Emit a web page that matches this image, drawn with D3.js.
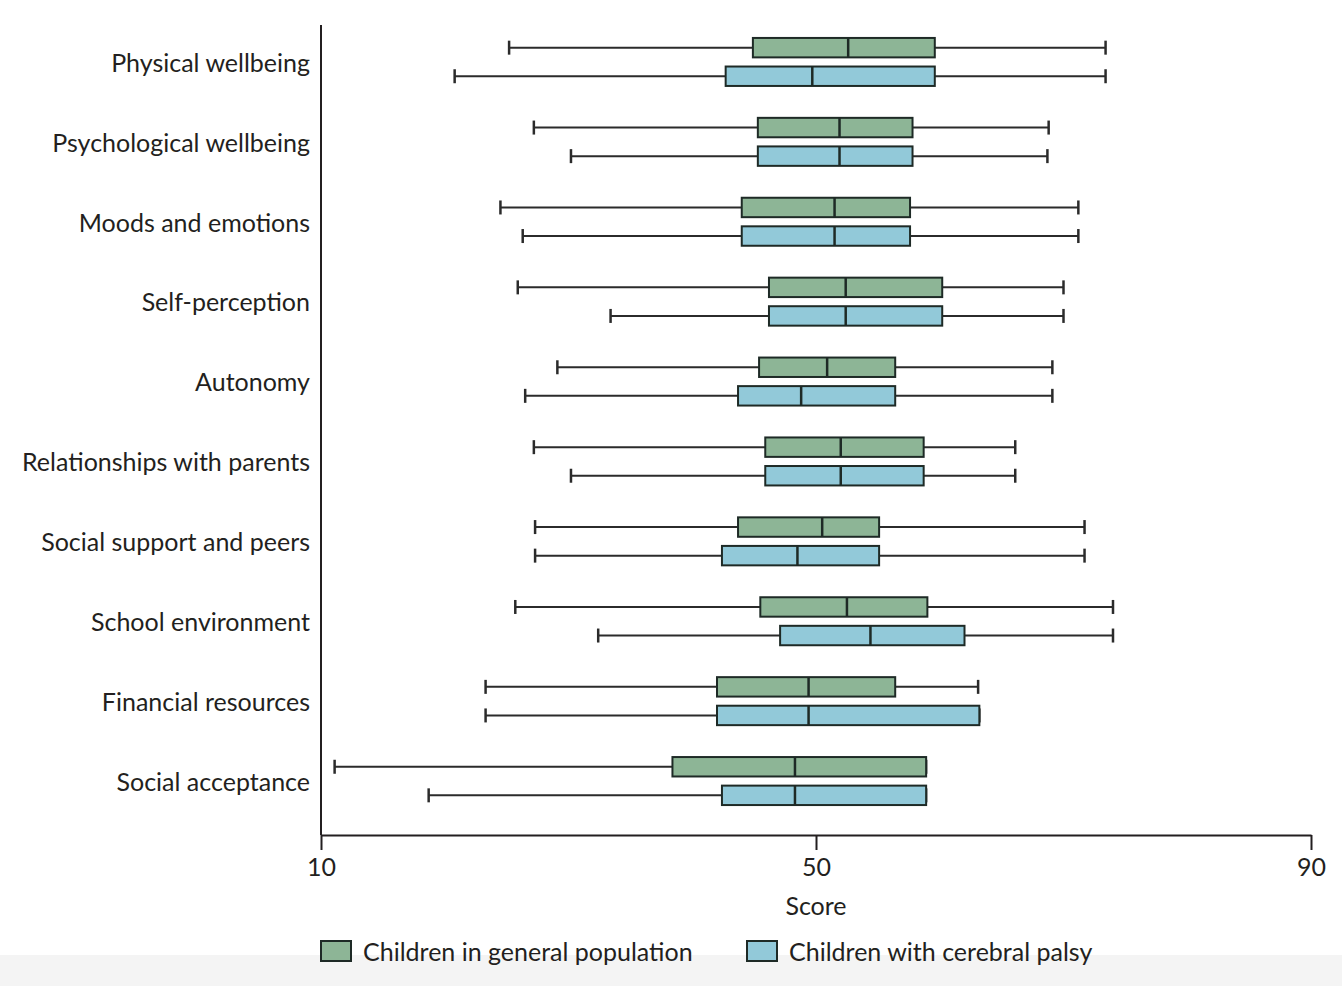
<!DOCTYPE html>
<html>
<head>
<meta charset="utf-8">
<script src="https://cdn.jsdelivr.net/npm/d3@7/dist/d3.min.js"></script>
<style>
  html, body { margin: 0; padding: 0; background: #ffffff; }
  svg text { font-family: "Lato", "Open Sans", sans-serif; fill: #231f20; }
</style>
</head>
<body>
<svg id="chart" width="1342" height="986"></svg>
<script>
// Domains of the KIDSCREEN questionnaire
const domains = [
  "Physical wellbeing",
  "Psychological wellbeing",
  "Moods and emotions",
  "Self-perception",
  "Autonomy",
  "Relationships with parents",
  "Social support and peers",
  "School environment",
  "Financial resources",
  "Social acceptance"
];

const groups = ["Children in general population", "Children with cerebral palsy"];

// Five-number summaries per domain: [min, Q1, median, Q3, max]
const generalPopulation = [
  [25.2, 44.9, 52.6, 59.6, 73.4],
  [27.2, 45.3, 51.9, 57.8, 68.8],
  [24.5, 44.0, 51.5, 57.6, 71.2],
  [25.9, 46.2, 52.4, 60.2, 70.0],
  [29.1, 45.4, 50.9, 56.4, 69.1],
  [27.2, 45.9, 52.0, 58.7, 66.1],
  [27.3, 43.7, 50.5, 55.1, 71.7],
  [25.7, 45.5, 52.5, 59.0, 74.0],
  [23.3, 42.0, 49.4, 56.4, 63.1],
  [11.1, 38.4, 48.3, 58.9, 58.9]
];

const cerebralPalsy = [
  [20.8, 42.7, 49.7, 59.6, 73.4],
  [30.2, 45.3, 51.9, 57.8, 68.7],
  [26.3, 44.0, 51.5, 57.6, 71.2],
  [33.4, 46.2, 52.4, 60.2, 70.0],
  [26.5, 43.7, 48.8, 56.4, 69.1],
  [30.2, 45.9, 52.0, 58.7, 66.1],
  [27.3, 42.4, 48.5, 55.1, 71.7],
  [32.4, 47.1, 54.4, 62.0, 74.0],
  [23.3, 42.0, 49.4, 63.2, 63.2],
  [18.7, 42.4, 48.3, 58.9, 58.9]
];

const xTicks = [10, 50, 90];
const groupColors = ["#8db596", "#92c9d9"];

const svg = d3.select("#chart");

// light footer band
svg.append("rect")
  .attr("x", 0).attr("y", 955).attr("width", 1342).attr("height", 31)
  .attr("fill", "#f4f4f4");

const x = d3.scaleLinear().domain([10, 90]).range([321, 1311]);
const y = d3.scaleBand().domain(domains).range([22, 821]);
const sub = d3.scaleBand().domain(groups)
  .range([y.bandwidth() / 2 - 24, y.bandwidth() / 2 + 24])
  .paddingInner(0.32).paddingOuter(0);

const axisY = 835;
const fontSize = 25;

// x axis
const xAxis = d3.axisBottom(x).tickValues(xTicks).tickSize(15).tickSizeOuter(0).tickPadding(7);
const gx = svg.append("g").attr("transform", `translate(0,${axisY})`).call(xAxis);
gx.select(".domain").attr("stroke", "#231f20").attr("stroke-width", 2);
gx.selectAll(".tick line").attr("stroke", "#231f20").attr("stroke-width", 2);
gx.selectAll(".tick text").attr("font-size", fontSize).attr("fill", "#231f20").attr("dy", "0.75em");

svg.append("text")
  .attr("x", x(50)).attr("y", 915)
  .attr("text-anchor", "middle").attr("font-size", fontSize)
  .text("Score");

// y axis line
svg.append("line")
  .attr("x1", x(10)).attr("x2", x(10))
  .attr("y1", 25).attr("y2", axisY)
  .attr("stroke", "#231f20").attr("stroke-width", 2);

// category labels
svg.append("g").selectAll("text")
  .data(domains).join("text")
  .attr("x", 310)
  .attr("y", d => y(d) + y.bandwidth() / 2 + 1)
  .attr("dy", "0.35em")
  .attr("text-anchor", "end")
  .attr("font-size", fontSize)
  .text(d => d);

// boxplots
const series = [generalPopulation, cerebralPalsy];
series.forEach((vals, gi) => {
  const g = svg.append("g");
  const boxH = sub.bandwidth();
  const rows = g.selectAll("g.row")
    .data(vals.map((v, i) => ({ domain: domains[i], v })))
    .join("g").attr("class", "row")
    .attr("transform", d => `translate(0,${y(d.domain) + sub(groups[gi])})`);

  // whisker line
  rows.append("line")
    .attr("x1", d => x(d.v[0])).attr("x2", d => x(d.v[4]))
    .attr("y1", boxH / 2).attr("y2", boxH / 2)
    .attr("stroke", "#2b2b2b").attr("stroke-width", 2);
  // whisker caps
  [0, 4].forEach(k => {
    rows.append("line")
      .attr("x1", d => x(d.v[k])).attr("x2", d => x(d.v[k]))
      .attr("y1", boxH / 2 - 7).attr("y2", boxH / 2 + 7)
      .attr("stroke", "#2b2b2b").attr("stroke-width", 2.5);
  });
  // box
  rows.append("rect")
    .attr("x", d => x(d.v[1])).attr("width", d => x(d.v[3]) - x(d.v[1]))
    .attr("y", 0).attr("height", boxH)
    .attr("fill", groupColors[gi])
    .attr("stroke", "#1e2a26").attr("stroke-width", 2);
  // median
  rows.append("line")
    .attr("x1", d => x(d.v[2])).attr("x2", d => x(d.v[2]))
    .attr("y1", 0).attr("y2", boxH)
    .attr("stroke", "#1e2a26").attr("stroke-width", 2.5);
});

// legend
const legendX = [321, 747];
const legend = svg.append("g").selectAll("g")
  .data(groups).join("g")
  .attr("transform", (d, i) => `translate(${legendX[i]},941)`);
legend.append("rect")
  .attr("width", 30).attr("height", 20)
  .attr("fill", (d, i) => groupColors[i])
  .attr("stroke", "#1e2a26").attr("stroke-width", 2);
legend.append("text")
  .attr("x", 42).attr("y", 11).attr("dy", "0.35em")
  .attr("font-size", fontSize)
  .text(d => d);
</script>
</body>
</html>
